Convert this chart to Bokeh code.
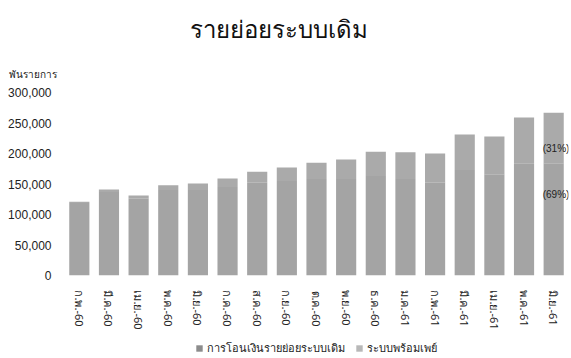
from bokeh.plotting import figure
from bokeh.layouts import column
from bokeh.models import (Range1d, FactorRange, FixedTicker, NumeralTickFormatter,
                          Title, Legend, LegendItem, ColumnDataSource)
from bokeh.core.properties import value
from bokeh.embed import file_html
from bokeh.resources import INLINE

# ---- data (thousand transactions) ----
months = ["ก.พ.-60", "มี.ค.-60", "เม.ย.-60", "พ.ค.-60", "มิ.ย.-60", "ก.ค.-60",
          "ส.ค.-60", "ก.ย.-60", "ต.ค.-60", "พ.ย.-60", "ธ.ค.-60", "ม.ค.-61",
          "ก.พ.-61", "มี.ค.-61", "เม.ย.-61", "พ.ค.-61", "มิ.ย.-61"]
traditional = [119000, 137000, 126000, 140000, 140000, 145000, 152000, 155000, 158000,
               158000, 163000, 158000, 152000, 173000, 166000, 184000, 184000]
promptpay = [2000, 4000, 5000, 8000, 11000, 14000, 18000, 22000, 27000,
             32000, 40000, 44000, 48000, 58000, 62000, 75000, 83000]
y_ticks = [0, 50000, 100000, 150000, 200000, 250000, 300000]
series_names = ["การโอนเงินรายย่อยระบบเดิม", "ระบบพร้อมเพย์"]
series_colors = ["#a4a4a4", "#aaaaaa"]
legend_swatch_colors = ["#8c8c8c", "#b8b8b8"]
title_text = "รายย่อยระบบเดิม"
unit_text = "พันรายการ"

THAI = "Noto Sans"
NUM = "Liberation Sans"

p = figure(width=571, height=338,
           x_range=FactorRange(*months, range_padding=0.0),
           y_range=Range1d(0, 300000), output_backend="svg", toolbar_location=None,
           min_border_left=64, min_border_right=3, min_border_top=10, min_border_bottom=63)
p.x_range.factor_padding = 0.0

src = ColumnDataSource(dict(month=months, trad=traditional, pp=promptpay))
rs = p.vbar_stack(["trad", "pp"], x="month", width=0.68, source=src,
                  color=series_colors, line_color=None)

# percentage labels on last bar
last_total = traditional[-1] + promptpay[-1]
pp_pct = round(100 * promptpay[-1] / last_total)
tr_pct = 100 - pp_pct
lab_src = ColumnDataSource(dict(x=[months[-1], months[-1]],
                                y=[last_total * 0.78, last_total * 0.5],
                                t=[f"({pp_pct}%)", f"({tr_pct}%)"]))
p.text(x="x", y="y", text="t", source=lab_src, x_offset=-11, text_align="left",
       text_baseline="middle", text_font=value(NUM), text_font_size="10px",
       text_color="#222222")

p.grid.visible = False
p.outline_line_color = None
p.background_fill_color = "white"

# y axis
ya = p.yaxis[0]
ya.ticker = FixedTicker(ticks=y_ticks)
ya.formatter = NumeralTickFormatter(format="0,0")
ya.axis_line_color = None
ya.major_tick_line_color = None
ya.minor_tick_line_color = None
ya.major_tick_out = 0
ya.major_label_text_font = NUM
ya.major_label_text_font_size = "12px"
ya.major_label_text_color = "#222222"
ya.major_label_standoff = 13

# x axis
xa = p.xaxis[0]
xa.axis_line_color = None
xa.major_tick_line_color = None
xa.minor_tick_line_color = None
xa.major_tick_out = 0
xa.major_label_orientation = "vertical"
xa.major_label_text_font = THAI
xa.major_label_text_font_size = "11px"
xa.major_label_text_color = "#222222"
xa.major_label_standoff = 15

# titles
p.title.text = title_text
p.title.align = "left"
p.title.offset = 125
p.title.text_font = THAI
p.title.text_font_size = "24px"
p.title.text_font_style = "normal"
p.title.text_color = "#111111"
p.title.standoff = 18
p.add_layout(Title(text=unit_text, align="left", offset=-56, text_font=THAI,
                   text_font_size="10px", text_font_style="normal",
                   text_color="#222222", standoff=23), "above")

# legend strip below the chart (swatch renderers sit outside the visible range)
q = figure(width=571, height=20, x_range=Range1d(0, 1), y_range=Range1d(0, 1),
           x_axis_type=None, y_axis_type=None, output_backend="svg",
           toolbar_location=None, min_border=0)
q.outline_line_color = None
q.grid.visible = False
lr = []
for c in legend_swatch_colors:
    s = ColumnDataSource(dict(x=[-5.0], top=[-5.0]))
    lr.append(q.vbar(x="x", top="top", bottom=-6.0, width=0.5, source=s,
                     fill_color=c, line_color=None))
legend = Legend(items=[LegendItem(label=n, renderers=[r]) for n, r in zip(series_names, lr)],
                orientation="horizontal", location="center",
                label_text_font=THAI, label_text_font_size="11px",
                label_text_color="#222222", glyph_width=8, glyph_height=8,
                label_standoff=4, spacing=10, padding=0, margin=0,
                border_line_color=None, background_fill_alpha=0)
q.add_layout(legend, "center")

open("out.html", "w").write(file_html(column(p, q, spacing=0), INLINE))
